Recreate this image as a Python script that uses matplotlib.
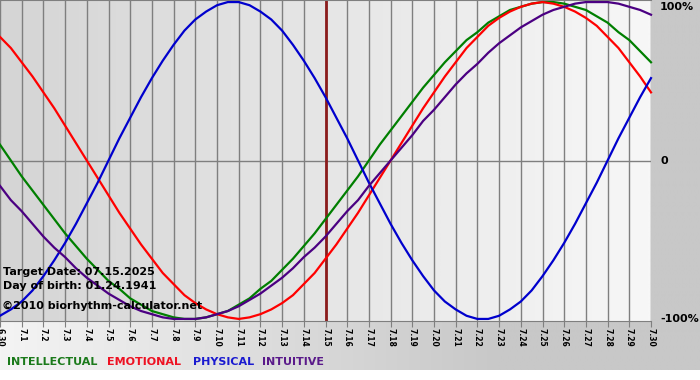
import numpy as np
import matplotlib
matplotlib.use("Agg")
import matplotlib.pyplot as plt
from matplotlib.colors import LinearSegmentedColormap

# ngay tren truc x (6.30 -> 7.30)
days = ["6.30", "7.1", "7.2", "7.3", "7.4", "7.5", "7.6", "7.7", "7.8", "7.9",
        "7.10", "7.11", "7.12", "7.13", "7.14", "7.15", "7.16", "7.17", "7.18",
        "7.19", "7.20", "7.21", "7.22", "7.23", "7.24", "7.25", "7.26", "7.27",
        "7.28", "7.29", "7.30"]
target_day = "7.15"

# gia tri doc tu hinh, moi nua ngay mot diem (-1 .. 1)
intellectual = [0.10, 0.00, -0.10, -0.19, -0.28, -0.37, -0.46, -0.54, -0.62, -0.69,
                -0.76, -0.81, -0.87, -0.91, -0.95, -0.97, -0.99, -1.00, -1.00, -0.99,
                -0.97, -0.95, -0.91, -0.87, -0.81, -0.76, -0.69, -0.62, -0.54, -0.46,
                -0.37, -0.28, -0.19, -0.10, 0.00, 0.10, 0.19, 0.28, 0.37, 0.46,
                0.54, 0.62, 0.69, 0.76, 0.81, 0.87, 0.91, 0.95, 0.97, 0.99,
                1.00, 1.00, 0.99, 0.97, 0.95, 0.91, 0.87, 0.81, 0.76, 0.69, 0.62]
emotional = [0.78, 0.71, 0.62, 0.53, 0.43, 0.33, 0.22, 0.11, 0.00, -0.11,
             -0.22, -0.33, -0.43, -0.53, -0.62, -0.71, -0.78, -0.85, -0.90, -0.94,
             -0.97, -0.99, -1.00, -0.99, -0.97, -0.94, -0.90, -0.85, -0.78, -0.71,
             -0.62, -0.53, -0.43, -0.33, -0.22, -0.11, 0.00, 0.11, 0.22, 0.33,
             0.43, 0.53, 0.62, 0.71, 0.78, 0.85, 0.90, 0.94, 0.97, 0.99,
             1.00, 0.99, 0.97, 0.94, 0.90, 0.85, 0.78, 0.71, 0.62, 0.53, 0.43]
physical = [-0.98, -0.94, -0.89, -0.82, -0.73, -0.63, -0.52, -0.40, -0.27, -0.14,
            0.00, 0.14, 0.27, 0.40, 0.52, 0.63, 0.73, 0.82, 0.89, 0.94,
            0.98, 1.00, 1.00, 0.98, 0.94, 0.89, 0.82, 0.73, 0.63, 0.52,
            0.40, 0.27, 0.14, 0.00, -0.14, -0.27, -0.40, -0.52, -0.63, -0.73,
            -0.82, -0.89, -0.94, -0.98, -1.00, -1.00, -0.98, -0.94, -0.89, -0.82,
            -0.73, -0.63, -0.52, -0.40, -0.27, -0.14, 0.00, 0.14, 0.27, 0.40, 0.52]
intuitive = [-0.16, -0.25, -0.32, -0.40, -0.48, -0.55, -0.61, -0.68, -0.74, -0.79,
             -0.84, -0.88, -0.92, -0.95, -0.97, -0.99, -1.00, -1.00, -1.00, -0.99,
             -0.97, -0.95, -0.92, -0.88, -0.84, -0.79, -0.74, -0.68, -0.61, -0.55,
             -0.48, -0.40, -0.32, -0.25, -0.16, -0.08, 0.00, 0.08, 0.16, 0.25,
             0.32, 0.40, 0.48, 0.55, 0.61, 0.68, 0.74, 0.79, 0.84, 0.88,
             0.92, 0.95, 0.97, 0.99, 1.00, 1.00, 1.00, 0.99, 0.97, 0.95, 0.92]

y_ticks = [1, 0, -1]
y_labels = ["100%", "0", "-100%"]

series = [("INTELLECTUAL", intellectual, "#007f00", "#1b7a1b"),
          ("EMOTIONAL", emotional, "#ff0000", "#ee1122"),
          ("PHYSICAL", physical, "#0000cd", "#1a1ad0"),
          ("INTUITIVE", intuitive, "#4b0082", "#5a1a8a")]

W, H = 700, 380
fig = plt.figure(figsize=(7, 3.8), dpi=100)
fig.patch.set_facecolor("white")

# nen xam phia duoi / ben phai
bg = fig.add_axes([0, 0, 1, 1], zorder=-2)
bg.set_xlim(0, 1)
bg.set_ylim(0, 1)
bg.axis("off")
cm_bg = LinearSegmentedColormap.from_list("bg", ["#f4f4f4", "#c8c8c8"])
g = np.clip(np.linspace(0, 1.4, 300), 0, 1)[None, :]
bg.imshow(g, cmap=cm_bg, extent=(0, 1, 10 / H, 1), aspect="auto", vmin=0, vmax=1)

# vung ve chinh
ax = fig.add_axes([0, 1 - 321 / H, 651 / W, 321 / H])
n_days = len(days)
x_days = np.arange(n_days)
x_half = np.linspace(0, n_days - 1, len(physical))
cm_ax = LinearSegmentedColormap.from_list("ax", ["#d5d5d5", "#f7f7f7"])
ax.imshow(np.linspace(0, 1, 300)[None, :], cmap=cm_ax, extent=(0, n_days - 1, -1.1, 1.1),
          aspect="auto", zorder=0)
ax.set_xlim(0, n_days - 1)
ax.set_ylim(-1.013, 1.013)

ax.set_xticks(x_days)
ax.set_xticklabels(days, rotation=-90, fontsize=5.5, fontweight="bold")
ax.tick_params(axis="x", direction="out", length=4, color="#7f7f7f", pad=1)
ax.grid(axis="x", color="#7f7f7f", lw=1)
ax.axhline(0, color="#7f7f7f", lw=1, zorder=1)
ax.axvline(days.index(target_day), color="#8b1c1c", lw=2, zorder=2)
ax.set_yticks([])
for s in ["left", "right"]:
    ax.spines[s].set_visible(False)
for s in ["top", "bottom"]:
    ax.spines[s].set_color("#7f7f7f")

for name, vals, col, _ in series:
    ax.plot(x_half, vals, color=col, lw=1.6, zorder=3, clip_on=False)

for v, lab in zip(y_ticks, y_labels):
    va = "top" if v == 1 else "center"
    ax.text(1.014, v, lab, transform=ax.get_yaxis_transform(), ha="left", va=va,
            fontsize=8, fontweight="bold")

# thong tin
fig.text(3 / W, 1 - 272 / H, "Target Date: 07.15.2025", fontsize=8, fontweight="bold", va="center")
fig.text(3 / W, 1 - 286 / H, "Day of birth: 01.24.1941", fontsize=8, fontweight="bold", va="center")
fig.text(2 / W, 1 - 306 / H, "\u00a92010 biorhythm-calculator.net", fontsize=8, fontweight="bold", va="center")

# chu thich
xs = [7, 107, 193, 262]
for xp, (name, _, _, tcol) in zip(xs, series):
    fig.text(xp / W, 1 - 362 / H, name, color=tcol, fontsize=8, fontweight="bold", va="center")

fig.savefig("out.png", dpi=100)
